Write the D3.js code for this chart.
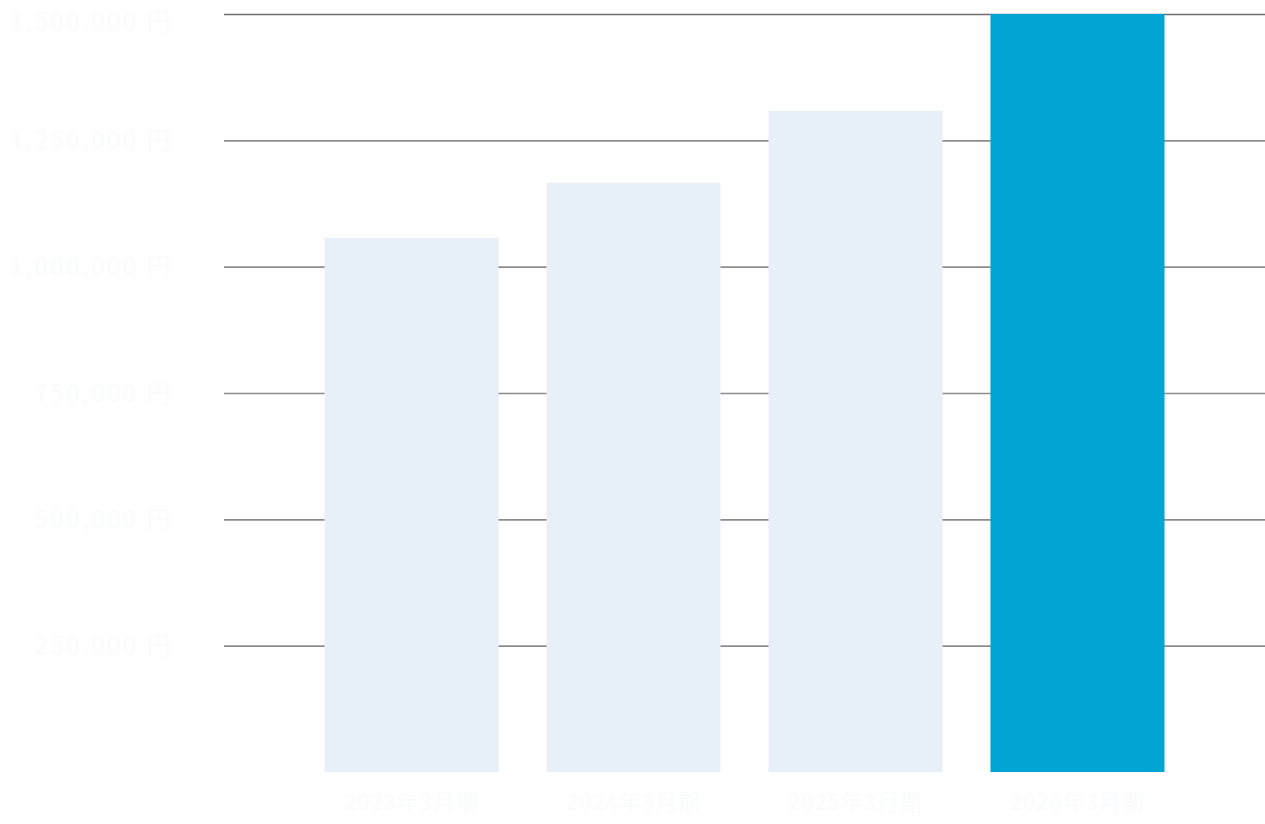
<!DOCTYPE html>
<html>
<head>
<meta charset="utf-8">
<script src="https://cdn.jsdelivr.net/npm/d3@7"></script>
<style>
  html, body { margin: 0; padding: 0; background: #ffffff; }
  svg { display: block; }
  text { font-family: "Noto Sans CJK JP", "Noto Sans", sans-serif; }
</style>
</head>
<body>
<svg id="chart" width="1265" height="824"></svg>
<script>
const categories = ["2023年3月期", "2024年3月期", "2025年3月期", "2026年3月期"];
const values = [1057000, 1166000, 1308000, 1500000];
const highlight = [false, false, false, true];
const yTicks = [250000, 500000, 750000, 1000000, 1250000, 1500000];
const yTickLabels = ["250,000 円", "500,000 円", "750,000 円", "1,000,000 円", "1,250,000 円", "1,500,000 円"];

(function () {
  const svg = d3.select("#chart");
  const mLeft = 224, mRight = 1265, mTop = 14, mBottom = 772;

  const x = d3.scaleBand().domain(categories).range([mLeft, mRight])
    .paddingInner(0.216).paddingOuter(0.4527);
  const y = d3.scaleLinear().domain([0, 1500000]).range([mBottom, mTop]);

  // gridlines
  const yAxis = d3.axisLeft(y).tickValues(yTicks)
    .tickSize(-(mRight - mLeft)).tickFormat("");
  const gGrid = svg.append("g").attr("transform", `translate(${mLeft},0)`).call(yAxis);
  gGrid.select(".domain").remove();
  gGrid.selectAll(".tick line")
    .attr("stroke", d => d === 1500000 ? "#6e6e6e" : "#8c8c8c")
    .attr("stroke-width", 1.6);

  // bars
  svg.append("g").selectAll("rect").data(categories).join("rect")
    .attr("x", d => x(d))
    .attr("width", x.bandwidth())
    .attr("y", (d, i) => y(values[i]))
    .attr("height", (d, i) => y(0) - y(values[i]))
    .attr("fill", (d, i) => highlight[i] ? "#00a5d4" : "#e8f0f7");

  // y labels
  svg.append("g").selectAll("text").data(yTicks).join("text")
    .attr("x", 173)
    .attr("y", d => Math.max(y(d), 21))
    .attr("dy", "0.36em")
    .attr("text-anchor", "end")
    .attr("font-size", 24)
    .attr("letter-spacing", 2.5)
    .attr("fill", "#fafbfc")
    .text((d, i) => yTickLabels[i]);

  // x labels
  const xAxis = d3.axisBottom(x).tickSize(0).tickPadding(0);
  const gx = svg.append("g").attr("transform", `translate(0,${mBottom + 22})`).call(xAxis);
  gx.select(".domain").remove();
  gx.selectAll(".tick text")
    .attr("font-size", 22)
    .attr("letter-spacing", 1)
    .attr("fill", "#fafbfc")
    .attr("font-family", "'Noto Sans CJK JP', sans-serif");
})();
</script>
</body>
</html>
